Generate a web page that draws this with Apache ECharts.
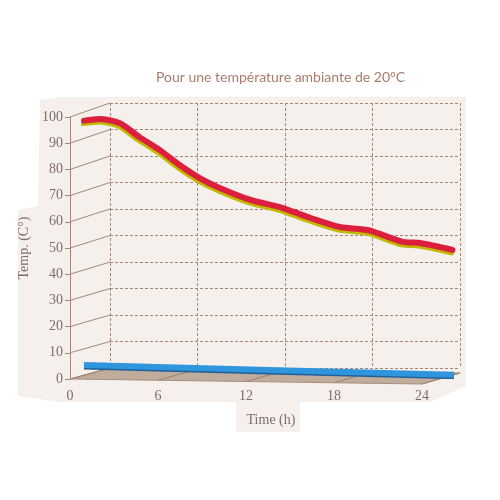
<!DOCTYPE html>
<html>
<head>
<meta charset="utf-8">
<script src="https://cdn.jsdelivr.net/npm/echarts@6/dist/echarts.min.js"></script>
<style>
  html, body { margin: 0; padding: 0; background: #fff; }
  #chart { width: 500px; height: 500px; }
</style>
</head>
<body>
<div id="chart"></div>
<script>
// hours / temperatures
const timeTicks = [0, 6, 12, 18, 24]
const tempTicks = [0, 10, 20, 30, 40, 50, 60, 70, 80, 90, 100]
const hotTimes = [0, 1, 2.3, 3.6, 4.9, 6.2, 7.5, 8.8, 10.8, 12.7, 13.6, 14.7, 16.6, 18.4, 19, 20.7, 21.8, 23.9]
const hotTemps = [96, 96.6, 95.1, 89.8, 85, 79.3, 74.4, 70.7, 66.2, 63.5, 61.7, 59.4, 56, 54.9, 53.8, 50.4, 50, 47.4]
const baseTimes = [0, 12, 24]
const baseTemps = [4.1, 2.3, 0.5]

const ink = '#7d6c6a'
const gridInk = '#a5877a'
const serif = '"Liberation Serif", "DejaVu Serif", serif'

const chart = echarts.init(document.getElementById('chart'))

const pairs = (xs, ys) => xs.map((x, i) => [x, ys[i]])

chart.setOption({
  backgroundColor: '#fff',
  animation: false,
  title: {
    text: 'Pour une température ambiante de 20°C',
    left: 156, top: 70, padding: 0,
    textStyle: { fontFamily: 'Lato, "Open Sans", sans-serif', fontWeight: 'normal', fontSize: 14, color: '#a87b69' }
  },
  grid: [
    // back wall
    { left: 110, top: 103, width: 350, height: 265 },
    // front edge (axes)
    { left: 70, top: 117, width: 352, height: 262 },
    // ribbon plane
    { left: 84, top: 110, width: 370, height: 266 }
  ],
  xAxis: [
    {
      gridIndex: 0, type: 'value', min: 0, max: 24, interval: 6,
      axisLine: { show: false }, axisTick: { show: false }, axisLabel: { show: false },
      splitLine: { show: true, lineStyle: { color: gridInk, type: [3, 2], width: 1 } }
    },
    {
      gridIndex: 1, type: 'value', min: 0, max: 24, interval: 6,
      name: 'Time (h)', nameLocation: 'middle', nameGap: 34,
      nameTextStyle: { fontFamily: serif, fontSize: 14, color: ink, padding: [0, 0, 0, 50] },
      axisLine: { show: false },
      axisTick: { show: false },
      axisLabel: { fontFamily: serif, fontSize: 14, color: ink, margin: 10 },
      splitLine: { show: false }
    },
    { gridIndex: 2, type: 'value', min: 0, max: 24, show: false }
  ],
  yAxis: [
    {
      gridIndex: 0, type: 'value', min: 0, max: 100, interval: 10,
      axisLine: { show: false }, axisTick: { show: false }, axisLabel: { show: false },
      splitLine: { show: true, lineStyle: { color: gridInk, type: [3, 2], width: 1 } }
    },
    {
      gridIndex: 1, type: 'value', min: 0, max: 100, interval: 10,
      name: 'Temp. (C°)', nameLocation: 'middle', nameGap: 33, nameRotate: 90,
      nameTextStyle: { fontFamily: serif, fontSize: 14, color: ink },
      axisLine: { show: true, lineStyle: { color: gridInk, width: 1 } },
      axisTick: { show: true, length: 5, lineStyle: { color: gridInk } },
      axisLabel: { fontFamily: serif, fontSize: 14, color: ink, margin: 7 },
      splitLine: { show: false }
    },
    { gridIndex: 2, type: 'value', min: 0, max: 100, show: false }
  ],
  series: [
    {
      type: 'line', xAxisIndex: 2, yAxisIndex: 2,
      data: pairs(baseTimes, baseTemps),
      symbol: 'none', z: 3,
      lineStyle: { color: '#2f95dd', width: 6, shadowColor: '#1f5f9a', shadowOffsetY: 1.5, shadowBlur: 0 }
    },
    {
      type: 'line', xAxisIndex: 2, yAxisIndex: 2,
      data: pairs(hotTimes, hotTemps),
      symbol: 'none', smooth: 0.25, z: 4,
      lineStyle: { color: '#dc1f3c', width: 6, cap: 'round', join: 'round', shadowColor: '#c2b800', shadowOffsetY: 2.5, shadowOffsetX: -1, shadowBlur: 0 }
    }
  ]
})

// walls and floor joining the front axes to the back wall
const sag = 5  // floor dips a little towards the right (perspective)
const back = (x, y) => {
  const p = chart.convertToPixel({ gridIndex: 0 }, [x, y])
  return y === 0 ? [p[0], p[1] + sag * x / 24] : p
}
const front = (x, y) => {
  const p = chart.convertToPixel({ gridIndex: 1 }, [x, y])
  return y === 0 ? [p[0], p[1] + sag * x / 24] : p
}
const tMax = timeTicks[timeTicks.length - 1]

const deco = []
deco.push({
  type: 'polygon', z: -10, silent: true,
  shape: { points: [[40, 100], [60, 97], [466, 97], [466, 386], [430, 402], [300, 402], [300, 432], [236, 432], [236, 402], [60, 402], [18, 396], [18, 210], [38, 206]] },
  style: { fill: '#f5f0ec' }
})
deco.push({
  type: 'polygon', z: -5, silent: true,
  shape: { points: [front(0, 0), front(tMax, 0), back(tMax, 0), back(0, 0)] },
  style: { fill: '#bfac9c', stroke: '#a58f80', lineWidth: 1 }
})
timeTicks.forEach(t => {
  deco.push({
    type: 'line', z: -4, silent: true,
    shape: { x1: front(t, 0)[0], y1: front(t, 0)[1], x2: back(t, 0)[0], y2: back(t, 0)[1] },
    style: { stroke: '#9b8272', lineWidth: 1 }
  })
})
tempTicks.forEach(v => {
  if (v === 0) return
  deco.push({
    type: 'line', z: -4, silent: true,
    shape: { x1: front(0, v)[0], y1: front(0, v)[1], x2: back(0, v)[0], y2: back(0, v)[1] },
    style: { stroke: gridInk, lineWidth: 1 }
  })
})
chart.setOption({ graphic: deco })
</script>
</body>
</html>
